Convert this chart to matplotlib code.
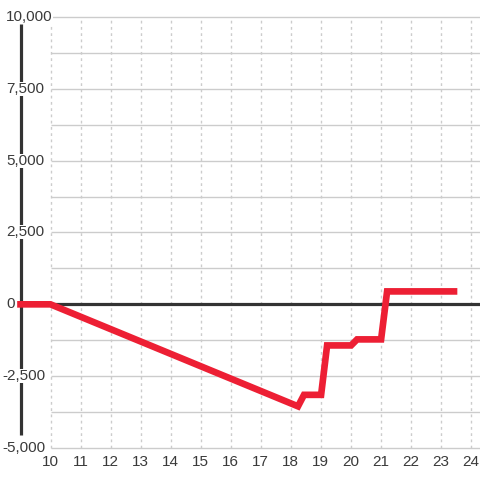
import matplotlib
matplotlib.use("Agg")
import matplotlib.pyplot as plt

plt.rcParams['font.family'] = ['Liberation Sans', 'DejaVu Sans']

# Data
x_vals = [9, 10, 18.25, 18.45, 19.02, 19.22, 20.02, 20.22, 21.02, 21.22, 23.45]
y_vals = [0, 0, -3550, -3150, -3150, -1430, -1430, -1220, -1220, 450, 450]
x_ticks = list(range(10, 25))
y_ticks = [-5000, -2500, 0, 2500, 5000, 7500, 10000]
y_tick_labels = ['-5,000', '-2,500', '0', '2,500', '5,000', '7,500', '10,000']
y_grid = [-5000, -3750, -2500, -1250, 0, 1250, 2500, 3750, 5000, 6250, 7500, 8750, 10000]

fig = plt.figure(figsize=(4.8, 4.8), dpi=100)
W = 480.0
ax = fig.add_axes([20.5 / W, 1 - 448 / W, (W - 20.5) / W, (448 - 17) / W])
xmax = 9 + (480 - 20.5) / 30
ax.set_xlim(9, xmax)
ax.set_ylim(-5000, 10000)
for s in ax.spines.values():
    s.set_visible(False)

ax.hlines(y_grid, 10, xmax, color='#cccccc', lw=1, zorder=1, clip_on=False)
ax.vlines(x_ticks, -5000, 10000, color='#cccccc', lw=1, linestyles=(0, (2, 2.5)), zorder=1, clip_on=False)
ax.hlines(0, 9, xmax, color='#333333', lw=2.3, zorder=2, clip_on=False)
ax.vlines(9, -4560, 9750, color='#333333', lw=2.3, zorder=2, clip_on=False)

for v, lab in zip(y_ticks, y_tick_labels):
    left_px = 2.5 if lab.startswith('-') else 6.0
    ax.text(9 + (left_px - 20.5) / 30, v, lab, ha='left', va='center', fontsize=11,
            color='#3a3a3a', zorder=3, clip_on=False,
            bbox=dict(facecolor='white', edgecolor='none', pad=0))

ax.plot(x_vals, y_vals, color='#ED1F34', lw=4.8, solid_joinstyle='miter',
        solid_capstyle='projecting', zorder=4, clip_on=False)

ax.set_yticks([])
ax.set_xticks(x_ticks)
ax.set_xticklabels([str(t) for t in x_ticks])
ax.tick_params(axis='x', length=0, pad=5, labelsize=11, labelcolor='#3a3a3a')

fig.savefig('out.png', dpi=100, facecolor='white')
